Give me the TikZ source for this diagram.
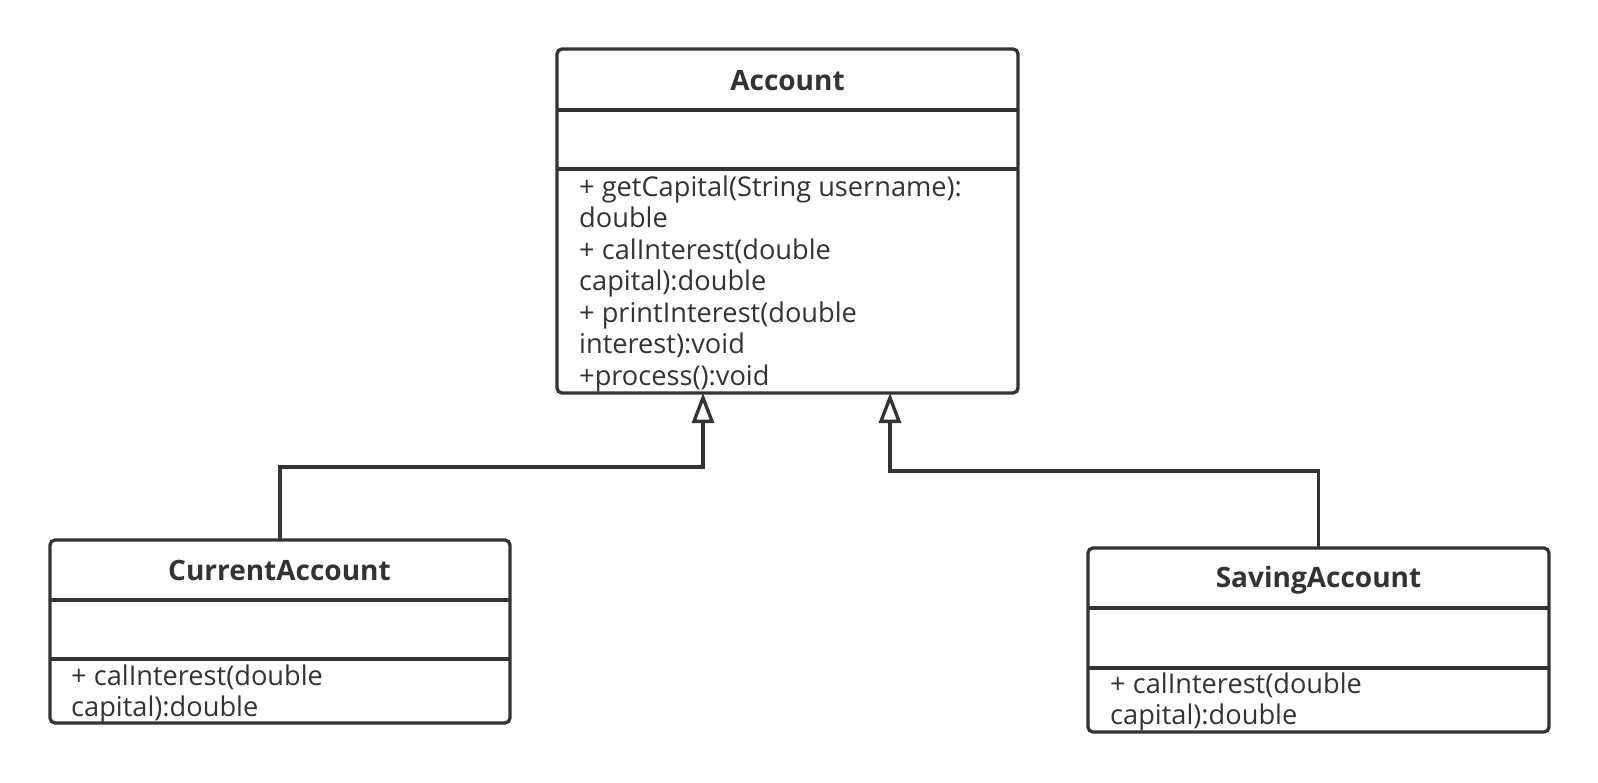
\documentclass[tikz,border=0pt]{standalone}
\usepackage{fontspec}
\setmainfont{Open Sans}
\usetikzlibrary{arrows.meta}
\definecolor{ink}{HTML}{333333}
\tikzset{
  cls/.style={draw=ink, line width=3.3pt, rounded corners=5pt, inner sep=0pt, outer sep=0pt, anchor=north west},
  divider/.style={draw=ink, line width=3.3pt},
  ctitle/.style={text=ink, font=\fontsize{28}{32}\selectfont\bfseries, anchor=base, inner sep=0pt},
  mem/.style={text=ink, font=\fontsize{27.2}{31.6}\selectfont, anchor=base west, inner sep=0pt},
  gen/.style={draw=ink, line width=3.3pt, line join=miter, -{Triangle[open, length=30pt, width=22pt]}}
}
\begin{document}
\begin{tikzpicture}[x=1pt, y=-1pt]
\useasboundingbox[fill=white] (0,0) rectangle (1598,782);

% Account
\node[cls, minimum width=461pt, minimum height=344pt] (acc) at (557,49) {};
\draw[divider] (acc.west |- 0,110) -- (acc.east |- 0,110);
\draw[divider] (acc.west |- 0,169) -- (acc.east |- 0,169);
\node[ctitle] (acct) at (787.5,90) {Account};
\node[mem] (a1) at (579,196) {+ getCapital(String username):};
\node[mem] (a2) at (579,227.5) {double};
\node[mem] (a3) at (579,259) {+ calInterest(double};
\node[mem] (a4) at (579,290.5) {capital):double};
\node[mem] (a5) at (579,322) {+ printInterest(double};
\node[mem] (a6) at (579,353.5) {interest):void};
\node[mem] (a7) at (579,385) {+process():void};

% CurrentAccount
\node[cls, minimum width=460pt, minimum height=183pt] (ca) at (50,540) {};
\draw[divider] (ca.west |- 0,600) -- (ca.east |- 0,600);
\draw[divider] (ca.west |- 0,659) -- (ca.east |- 0,659);
\node[ctitle] (cat) at (279.5,580) {CurrentAccount};
\node[mem] (c1) at (71,685) {+ calInterest(double};
\node[mem] (c2) at (71,716.5) {capital):double};

% SavingAccount
\node[cls, minimum width=461pt, minimum height=184pt] (sa) at (1088,548) {};
\draw[divider] (sa.west |- 0,608) -- (sa.east |- 0,608);
\draw[divider] (sa.west |- 0,668) -- (sa.east |- 0,668);
\node[ctitle] (sat) at (1318.5,587.5) {SavingAccount};
\node[mem] (s1) at (1110,693.5) {+ calInterest(double};
\node[mem] (s2) at (1110,724.5) {capital):double};

% generalisations
\draw[gen] (ca.north) -- ++(0,-73) -| ([xshift=-84.5pt]acc.south);
\draw[gen] (sa.north) -- ++(0,-77) -| ([xshift=102.5pt]acc.south);
\end{tikzpicture}
\end{document}
